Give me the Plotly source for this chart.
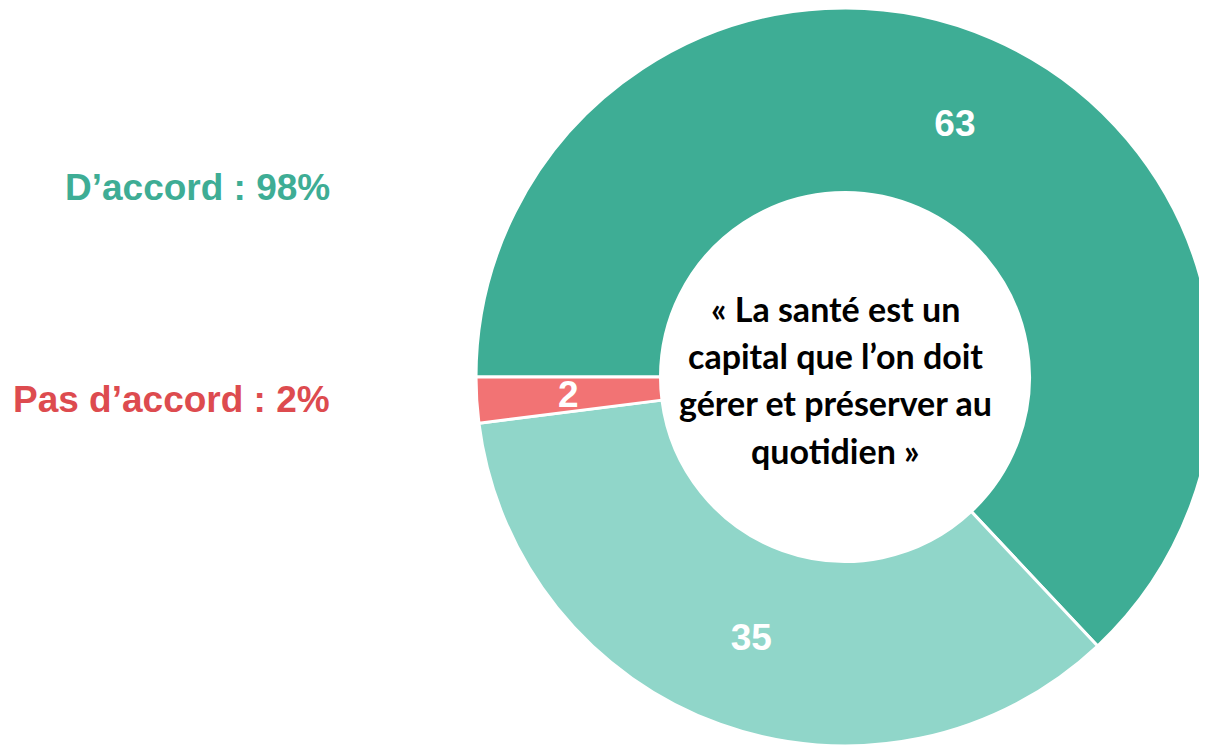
import math
import plotly.graph_objects as go

labels = ["Tout à fait d'accord", "Plutôt d'accord", "Pas d'accord"]
values = [63, 35, 2]
colors = ["#3EAD95", "#90D6C9", "#F27374"]

summary_labels = ["D’accord : 98%", "Pas d’accord : 2%"]
summary_colors = ["#3EAD95", "#DD4B4F"]
center_lines = ["« La santé est un", "capital que l’on doit", "gérer et préserver au", "quotidien »"]

W, H = 1207, 750
OFF = 8  # page body margin of the html output

# donut geometry (figure pixels)
cx, cy, R = 845 - OFF, 377 - OFF, 370
HOLE = 0.5
x0 = cx - R
ytop = 0
ybot = 2 * cy

fig = go.Figure()
fig.add_trace(go.Pie(
    labels=labels,
    values=values,
    hole=HOLE,
    sort=False,
    direction="clockwise",
    rotation=270,
    marker=dict(colors=colors, line=dict(color="white", width=3)),
    textinfo="value",
    textposition=["inside", "inside", "none"],
    insidetextorientation="horizontal",
    textfont=dict(family="Liberation Sans, Arial, sans-serif", size=37, color="white", weight="bold"),
    domain=dict(x=[x0 / W, 1.0], y=[1 - ybot / H, 1.0]),
    showlegend=False,
    hoverinfo="label+value",
))

# label of the thin slice, placed at the middle of its arc (derived from data)
total = sum(values)
start = sum(values[:-1]) / total
mid_frac = start + values[-1] / total / 2
ang = math.radians(180 - mid_frac * 360)
r_mid = R * (1 + HOLE) / 2
lx = cx + r_mid * math.cos(ang)
ly = cy - r_mid * math.sin(ang)
fig.add_annotation(
    x=lx / W, y=1 - ly / H, xref="paper", yref="paper",
    xanchor="center", yanchor="middle", showarrow=False,
    text=f"<b>{values[-1]}</b>",
    font=dict(family="Liberation Sans, Arial, sans-serif", size=37, color="white"),
)

# summary labels on the left
for txt, col, py in zip(summary_labels, summary_colors, [187, 400]):
    fig.add_annotation(
        x=(332 - OFF) / W, y=1 - (py - OFF) / H, xref="paper", yref="paper",
        xanchor="right", yanchor="middle", showarrow=False,
        text=f"<b>{txt}</b>",
        font=dict(family="Liberation Sans, Arial, sans-serif", size=37, color=col),
    )

# centre text
for line, py in zip(center_lines, [308, 355, 403, 450]):
    fig.add_annotation(
        x=(835 - OFF) / W, y=1 - (py - OFF) / H, xref="paper", yref="paper",
        xanchor="center", yanchor="middle", showarrow=False,
        text=f"<b>{line}</b>",
        font=dict(family="Lato, Open Sans, sans-serif", size=34, color="black"),
    )

fig.update_layout(
    width=W, height=H,
    margin=dict(l=0, r=0, t=0, b=0),
    paper_bgcolor="white",
    plot_bgcolor="white",
    uniformtext=dict(minsize=37, mode="show"),
)

fig.write_html("out.html")
